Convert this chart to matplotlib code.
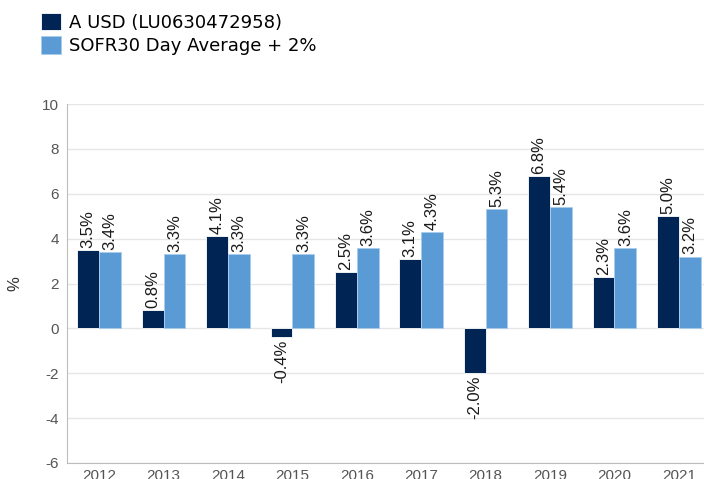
import matplotlib.pyplot as plt
import numpy as np

plt.rcParams['axes.unicode_minus'] = False

years = ['2012', '2013', '2014', '2015', '2016', '2017', '2018', '2019', '2020', '2021']
fund = [3.5, 0.8, 4.1, -0.4, 2.5, 3.1, -2.0, 6.8, 2.3, 5.0]
bench = [3.4, 3.3, 3.3, 3.3, 3.6, 4.3, 5.3, 5.4, 3.6, 3.2]
names = ['A USD (LU0630472958)', 'SOFR30 Day Average + 2%']

dark = '#002554'
light = '#5b9bd5'

fig = plt.figure(figsize=(7.04, 4.79), dpi=100)
# plot area runs a bit past the right edge, like the original crop
ax = fig.add_axes([67 / 704, 16 / 479, (711 - 67) / 704, (463 - 104) / 479])

x = np.arange(len(years))
w = 0.34
b1 = ax.bar(x - w / 2, fund, w, color=dark, edgecolor='white', linewidth=0.6, label=names[0])
b2 = ax.bar(x + w / 2, bench, w, color=light, edgecolor='#a9ccec', linewidth=0.6, label=names[1])

for bars in (b1, b2):
    ax.bar_label(bars, fmt='%.1f%%', rotation=90, padding=1.5,
                 fontsize=12, family='Liberation Sans', color='#1a1a1a')

ax.set_xlim(-0.5, len(years) - 0.5)
ax.set_ylim(-6, 10)
ax.set_yticks(range(-6, 11, 2))
ax.set_xticks(x)
ax.set_xticklabels(years)

ax.grid(axis='y', color='#e6e6e6', linewidth=1)
ax.set_axisbelow(True)
for s in ['top', 'right']:
    ax.spines[s].set_visible(False)
ax.spines['left'].set_color('#bdbdbd')
ax.spines['bottom'].set_color('#bdbdbd')

ax.tick_params(length=0, labelsize=11, labelcolor='#555555')
ax.tick_params(axis='y', pad=6)
ax.tick_params(axis='x', pad=4)
for lab in ax.get_xticklabels() + ax.get_yticklabels():
    lab.set_family('Liberation Sans')

ax.set_ylabel('%', fontsize=12, family='Liberation Sans', color='#333333', labelpad=14)

fig.legend(handles=[b1, b2], labels=names, loc='upper left',
           bbox_to_anchor=(41 / 704, 1 - 13 / 479), frameon=False,
           fontsize=13, handlelength=1.1, handleheight=1.1,
           handletextpad=0.45, labelspacing=0.25, borderpad=0, borderaxespad=0)

fig.savefig('out.png', dpi=100)
